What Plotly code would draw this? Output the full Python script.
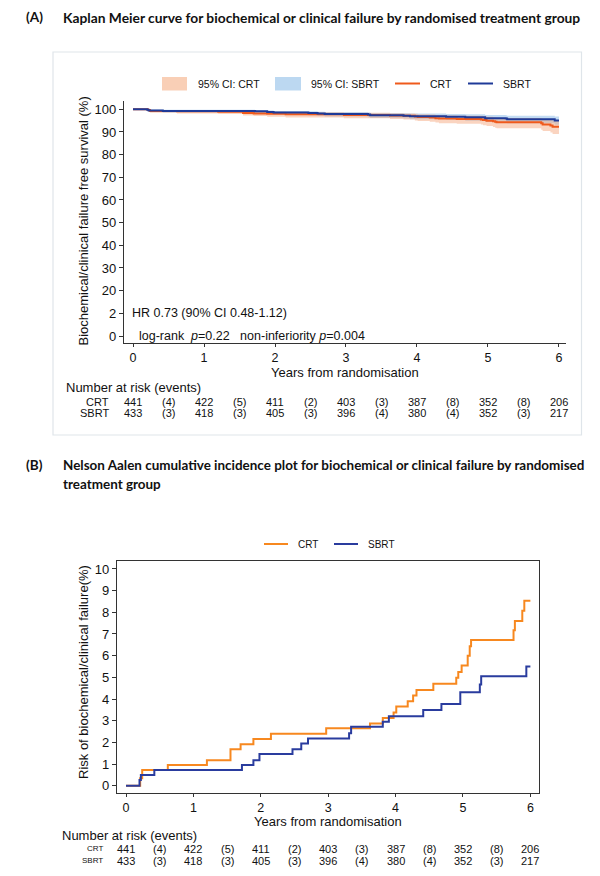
import plotly.graph_objects as go

W, H = 600, 876

# ---------------- data ----------------
years = [0, 1, 2, 3, 4, 5, 6]
event_years = [0.5, 1.5, 2.5, 3.5, 4.5, 5.5]
crt_risk = [441, 422, 411, 403, 387, 352, 206]
crt_events = [4, 5, 2, 3, 8, 8]
sbrt_risk = [433, 418, 405, 396, 380, 352, 217]
sbrt_events = [3, 3, 3, 4, 4, 3]

# Kaplan-Meier (panel A)
km_crt_t = [0, 0.21, 0.24, 0.62, 1.20, 1.55, 1.70, 1.89, 2.15, 2.97, 3.62, 3.81, 3.97, 4.01,
            4.18, 4.26, 4.31, 4.56, 4.90, 4.93, 4.98, 5.07, 5.10, 5.12, 5.75, 5.77, 5.88, 5.91, 6.0]
km_crt = [100, 99.7, 99.3, 99.1, 98.9, 98.4, 98.2, 98.0, 97.8, 97.5, 97.3, 97.1, 96.8, 96.6,
          96.4, 96.1, 95.9, 95.7, 95.5, 95.3, 95.0, 94.7, 94.5, 94.3, 93.8, 93.3, 92.8, 92.3, 92.3]
km_crt_lo = [100, 99.0, 98.5, 98.2, 97.9, 97.3, 97.0, 96.7, 96.4, 96.0, 95.7, 95.5, 95.1, 94.8,
             94.5, 94.2, 93.9, 93.6, 93.3, 93.0, 92.6, 92.2, 91.9, 91.6, 91.0, 90.4, 89.8, 89.1, 89.1]
km_crt_hi = [100, 99.9, 99.7, 99.6, 99.5, 99.1, 99.0, 98.9, 98.7, 98.5, 98.3, 98.2, 98.0, 97.8,
             97.7, 97.5, 97.3, 97.2, 97.1, 96.9, 96.7, 96.5, 96.4, 96.2, 95.9, 95.6, 95.3, 95.0, 95.0]

km_sbrt_t = [0, 0.20, 0.22, 0.42, 1.72, 1.89, 1.98, 2.47, 2.60, 2.70, 3.31, 3.34, 3.81, 3.90,
             4.41, 4.68, 4.96, 5.25, 5.27, 5.94, 6.0]
km_sbrt = [100, 99.8, 99.5, 99.3, 99.1, 98.85, 98.6, 98.35, 98.1, 97.9, 97.65, 97.4, 97.15, 96.9,
           96.7, 96.5, 96.1, 95.9, 95.6, 95.1, 95.1]
km_sbrt_lo = [100, 99.3, 98.9, 98.6, 98.3, 98.0, 97.7, 97.4, 97.1, 96.8, 96.5, 96.2, 95.9, 95.6,
              95.3, 95.0, 94.5, 94.2, 93.8, 93.2, 93.2]
km_sbrt_hi = [100, 100, 99.9, 99.8, 99.6, 99.45, 99.3, 99.1, 98.95, 98.8, 98.6, 98.4, 98.25, 98.1,
              97.95, 97.8, 97.5, 97.35, 97.15, 96.8, 96.8]

# Nelson-Aalen cumulative incidence (panel B)
na_crt_t = [0, 0.21, 0.24, 0.62, 1.20, 1.55, 1.70, 1.89, 2.15, 2.97, 3.62, 3.81, 3.97, 4.01,
            4.18, 4.26, 4.31, 4.56, 4.90, 4.93, 4.98, 5.07, 5.10, 5.12, 5.75, 5.77, 5.88, 5.91, 6.0]
na_crt = [0, 0.35, 0.72, 0.95, 1.18, 1.68, 1.91, 2.15, 2.40, 2.65, 2.87, 3.12, 3.38, 3.65,
          3.90, 4.16, 4.42, 4.70, 4.98, 5.24, 5.55, 6.00, 6.43, 6.72, 7.17, 7.60, 8.07, 8.53, 8.53]
na_sbrt_t = [0, 0.20, 0.22, 0.42, 1.72, 1.89, 1.98, 2.47, 2.60, 2.70, 3.31, 3.34, 3.81, 3.90,
             4.41, 4.68, 4.96, 5.25, 5.27, 5.94, 6.0]
na_sbrt = [0, 0.26, 0.49, 0.72, 0.95, 1.18, 1.46, 1.68, 1.95, 2.18, 2.42, 2.72, 2.95, 3.21,
           3.49, 3.77, 4.31, 4.67, 5.05, 5.50, 5.50]

km_ticks = [0, 10, 20, 30, 40, 50, 60, 70, 80, 90, 100]
km_ticktext = ["0", "2", "20", "30", "40", "50", "60", "70", "80", "90", "100"]
na_ticks = [0, 1, 2, 3, 4, 5, 6, 7, 8, 9, 10]

# ---------------- styling ----------------
FONT = "Liberation Sans, Arial, sans-serif"
TFONT = "Lato, Open Sans, sans-serif"
ORANGE_A = "#ef5a1c"
BLUE_A = "#1f3a98"
ORANGE_B = "#f7881f"
BLUE_B = "#2a3c9e"
PEACH = "rgba(244,160,115,0.45)"
LBLUE = "rgba(135,185,232,0.50)"
AX = "#333333"


def px(x):
    return x / W


def py(y):
    return 1 - y / H


fig = go.Figure()

# Panel A bands
fig.add_trace(go.Scatter(x=km_sbrt_t, y=km_sbrt_hi, mode="lines", line=dict(width=0, shape="hv"),
                         xaxis="x", yaxis="y", showlegend=False, hoverinfo="skip"))
fig.add_trace(go.Scatter(x=km_sbrt_t, y=km_sbrt_lo, mode="lines", line=dict(width=0, shape="hv"),
                         fill="tonexty", fillcolor=LBLUE, xaxis="x", yaxis="y", showlegend=False))
fig.add_trace(go.Scatter(x=km_crt_t, y=km_crt_hi, mode="lines", line=dict(width=0, shape="hv"),
                         xaxis="x", yaxis="y", showlegend=False, hoverinfo="skip"))
fig.add_trace(go.Scatter(x=km_crt_t, y=km_crt_lo, mode="lines", line=dict(width=0, shape="hv"),
                         fill="tonexty", fillcolor=PEACH, xaxis="x", yaxis="y", showlegend=False))
fig.add_trace(go.Scatter(x=km_crt_t, y=km_crt, mode="lines", line=dict(color=ORANGE_A, width=2, shape="hv"),
                         xaxis="x", yaxis="y", showlegend=False, name="CRT"))
fig.add_trace(go.Scatter(x=km_sbrt_t, y=km_sbrt, mode="lines", line=dict(color=BLUE_A, width=2, shape="hv"),
                         xaxis="x", yaxis="y", showlegend=False, name="SBRT"))

# Panel B lines
fig.add_trace(go.Scatter(x=na_crt_t, y=na_crt, mode="lines", line=dict(color=ORANGE_B, width=2, shape="hv"),
                         xaxis="x2", yaxis="y2", showlegend=False, name="CRT"))
fig.add_trace(go.Scatter(x=na_sbrt_t, y=na_sbrt, mode="lines", line=dict(color=BLUE_B, width=2, shape="hv"),
                         xaxis="x2", yaxis="y2", showlegend=False, name="SBRT"))


def axis_style(ticklen=4, size=13):
    return dict(showgrid=False, zeroline=False, showline=True, linecolor=AX, linewidth=1.2,
                ticks="outside", ticklen=ticklen, tickwidth=1.2, tickcolor=AX,
                tickfont=dict(family=FONT, size=size, color="#111"))


fig.update_layout(
    width=W, height=H, margin=dict(l=0, r=0, t=0, b=0),
    paper_bgcolor="white", plot_bgcolor="white", showlegend=False,
    xaxis=dict(domain=[px(124), px(566)], range=[-0.127, 6.099], anchor="y",
               tickvals=years, **axis_style(3, 12.5)),
    yaxis=dict(domain=[py(343.3), py(101)], range=[-3.22, 103.66], anchor="x",
               tickvals=km_ticks, ticktext=km_ticktext, **axis_style(4, 13)),
    xaxis2=dict(domain=[px(117), px(538.8)], range=[-0.134, 6.125], anchor="y2",
                tickvals=years, mirror=True, **axis_style(3, 12.5)),
    yaxis2=dict(domain=[py(793.3), py(560.7)], range=[-0.35, 10.38], anchor="x2",
                tickvals=na_ticks, mirror=True, **axis_style(4, 13)),
)

shapes = []
ann = []

# panel A outer frame
shapes.append(dict(type="rect", xref="paper", yref="paper", x0=px(53), x1=px(581.5), y0=py(435), y1=py(52),
                   line=dict(color="#dfe5ea", width=1.2), fillcolor="rgba(0,0,0,0)"))

# panel A legend
shapes.append(dict(type="rect", xref="paper", yref="paper", x0=px(162), x1=px(187), y0=py(90.5), y1=py(77),
                   line=dict(width=0), fillcolor="#f9cfb6"))
shapes.append(dict(type="rect", xref="paper", yref="paper", x0=px(275), x1=px(301), y0=py(90.5), y1=py(77),
                   line=dict(width=0), fillcolor="#bcd8f1"))
shapes.append(dict(type="line", xref="paper", yref="paper", x0=px(395), x1=px(420), y0=py(83.5), y1=py(83.5),
                   line=dict(color=ORANGE_A, width=2)))
shapes.append(dict(type="line", xref="paper", yref="paper", x0=px(468), x1=px(493), y0=py(83.5), y1=py(83.5),
                   line=dict(color=BLUE_A, width=2)))
for xx, txt in [(196, "95% CI: CRT"), (308.5, "95% CI: SBRT"), (428, "CRT"), (501, "SBRT")]:
    ann.append(dict(xref="paper", yref="paper", x=px(xx), y=py(83.5), text=txt, showarrow=False,
                    xanchor="left", yanchor="middle", font=dict(family=FONT, size=10.5, color="#111")))

# panel B legend
shapes.append(dict(type="line", xref="paper", yref="paper", x0=px(264), x1=px(288), y0=py(544), y1=py(544),
                   line=dict(color=ORANGE_B, width=2)))
shapes.append(dict(type="line", xref="paper", yref="paper", x0=px(334), x1=px(358), y0=py(544), y1=py(544),
                   line=dict(color=BLUE_B, width=2)))
for xx, txt in [(296, "CRT"), (365.5, "SBRT")]:
    ann.append(dict(xref="paper", yref="paper", x=px(xx), y=py(544), text=txt, showarrow=False,
                    xanchor="left", yanchor="middle", font=dict(family=FONT, size=10, color="#111")))

# titles
for yy, txt, sz in [(17, "Kaplan Meier curve for biochemical or clinical failure by randomised treatment group", 13.8),
                    (465, "Nelson Aalen cumulative incidence plot for biochemical or clinical failure by randomised", 13.45),
                    (484, "treatment group", 13.45)]:
    ann.append(dict(xref="paper", yref="paper", x=px(61), y=py(yy), text="<b>" + txt + "</b>", showarrow=False,
                    xanchor="left", yanchor="middle", font=dict(family=TFONT, size=sz, color="#111")))
for yy, txt in [(17, "(A)"), (465, "(B)")]:
    ann.append(dict(xref="paper", yref="paper", x=px(24), y=py(yy), text="<b>" + txt + "</b>", showarrow=False,
                    xanchor="left", yanchor="middle", font=dict(family=TFONT, size=13.6, color="#111")))

# axis titles
ann.append(dict(xref="paper", yref="paper", x=px(82.5), y=py(221), text="Biochemical/clinical failure free survival (%)",
                textangle=-90, showarrow=False, xanchor="center", yanchor="middle",
                font=dict(family=FONT, size=13, color="#111")))
ann.append(dict(xref="paper", yref="paper", x=px(83), y=py(672), text="Risk of biochemical/clinical failure(%)",
                textangle=-90, showarrow=False, xanchor="center", yanchor="middle",
                font=dict(family=FONT, size=13, color="#111")))
ann.append(dict(xref="paper", yref="paper", x=px(345), y=py(373), text="Years from randomisation",
                showarrow=False, xanchor="center", yanchor="middle", font=dict(family=FONT, size=13, color="#111")))
ann.append(dict(xref="paper", yref="paper", x=px(328), y=py(821), text="Years from randomisation",
                showarrow=False, xanchor="center", yanchor="middle", font=dict(family=FONT, size=13, color="#111")))

# stats text panel A
ann.append(dict(xref="paper", yref="paper", x=px(130), y=py(313), text="HR 0.73 (90% CI 0.48-1.12)",
                showarrow=False, xanchor="left", yanchor="middle", font=dict(family=FONT, size=12.5, color="#111")))
ann.append(dict(xref="paper", yref="paper", x=px(137), y=py(336),
                text="log-rank  <i>p</i>=0.22   non-inferiority <i>p</i>=0.004",
                showarrow=False, xanchor="left", yanchor="middle", font=dict(family=FONT, size=12.5, color="#111")))


# risk tables
def risk_table(xref, head_y, crt_y, sbrt_y, head_x, lab_right, lab_size, num_size):
    ann.append(dict(xref="paper", yref="paper", x=px(head_x), y=py(head_y), text="Number at risk (events)",
                    showarrow=False, xanchor="left", yanchor="middle", font=dict(family=FONT, size=13, color="#111")))
    for yy, lab, risk, ev in [(crt_y, "CRT", crt_risk, crt_events), (sbrt_y, "SBRT", sbrt_risk, sbrt_events)]:
        ann.append(dict(xref="paper", yref="paper", x=px(lab_right), y=py(yy), text=lab, showarrow=False,
                        xanchor="right", yanchor="middle", font=dict(family=FONT, size=lab_size, color="#111")))
        for xv, v in zip(years, risk):
            ann.append(dict(xref=xref, yref="paper", x=xv, y=py(yy), text=str(v), showarrow=False,
                            xanchor="center", yanchor="middle", font=dict(family=FONT, size=num_size, color="#111")))
        for xv, v in zip(event_years, ev):
            ann.append(dict(xref=xref, yref="paper", x=xv, y=py(yy), text="(%d)" % v, showarrow=False,
                            xanchor="center", yanchor="middle", font=dict(family=FONT, size=num_size, color="#111")))


risk_table("x", 387.5, 401.7, 413.3, 64, 110.7, 11, 11)
risk_table("x2", 835.7, 848.5, 860.5, 60, 105, 8, 11)

fig.update_layout(shapes=shapes, annotations=ann)
fig.write_html("out.html", config={"displayModeBar": False},
               post_script="document.body.style.margin='0';document.body.style.padding='0';"
                           "document.documentElement.style.overflow='hidden';")
